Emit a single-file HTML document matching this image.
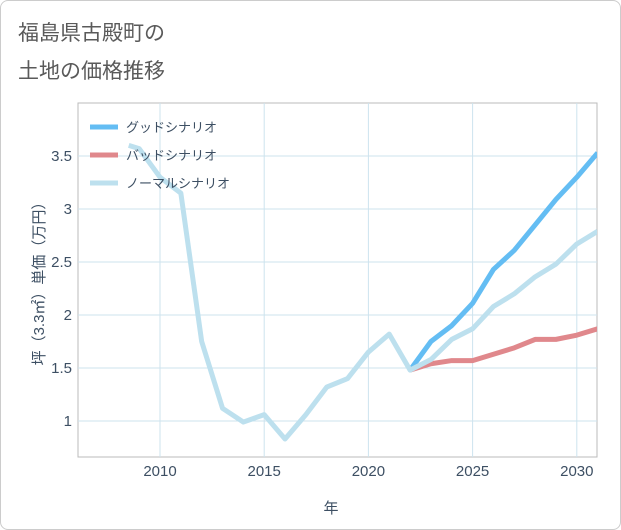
<!DOCTYPE html>
<html><head><meta charset="utf-8"><style>
body{margin:0;background:#fff;font-family:"Liberation Sans","Noto Sans CJK JP",sans-serif;}
#card{position:absolute;left:0;top:0;width:619px;height:528px;border:1px solid #ccc;border-radius:8px;background:#fff;}
</style></head><body>
<div id="card">
<svg id="chart" width="621" height="530" style="position:absolute;left:-1px;top:-1px">
<text x="18" y="40" font-size="21" fill="#5a5a5a" font-family="Liberation Sans,Noto Sans CJK JP,sans-serif">福島県古殿町の</text>
<text x="18" y="78" font-size="21" fill="#5a5a5a" font-family="Liberation Sans,Noto Sans CJK JP,sans-serif">土地の価格推移</text>
<g id="grid"></g><g id="series"></g><g id="legend"></g>
<text x="331" y="513" font-size="15" fill="#3d4f63" text-anchor="middle" font-family="Liberation Sans,Noto Sans CJK JP,sans-serif">年</text>
<text transform="translate(44,280) rotate(-90)" font-size="15" fill="#3d4f63" text-anchor="middle" font-family="Liberation Sans,Noto Sans CJK JP,sans-serif">坪（3.3㎡）単価（万円）</text>
</svg></div>
<script>
const xTicks=[2010,2015,2020,2025,2030];
const yTicks=[1,1.5,2,2.5,3,3.5];
const yTickLabels=["1","1.5","2","2.5","3","3.5"];
const normalYears=[2008.5,2009,2010,2011,2012,2013,2014,2015,2016,2017,2018,2019,2020,2021,2022,2023,2024,2025,2026,2027,2028,2029,2030,2031];
const normalVals=[3.6,3.57,3.3,3.15,1.75,1.12,0.99,1.06,0.83,1.06,1.32,1.4,1.65,1.82,1.48,1.58,1.77,1.87,2.08,2.2,2.36,2.48,2.67,2.79];
const futureYears=[2022,2023,2024,2025,2026,2027,2028,2029,2030,2031];
const goodVals=[1.48,1.75,1.9,2.11,2.43,2.61,2.85,3.09,3.3,3.53];
const badVals=[1.48,1.54,1.57,1.57,1.63,1.69,1.77,1.77,1.81,1.87];
const X0=78,X1=597,Y0=103,Y1=457;
const xS=v=>160+(v-2010)*20.84;
const yS=v=>421-(v-1)*106;
const NS="http://www.w3.org/2000/svg";
function mk(t,a,p){const e=document.createElementNS(NS,t);for(const k in a)e.setAttribute(k,a[k]);p.appendChild(e);return e;}
const grid=document.getElementById('grid');
const bg=mk('rect',{x:X0,y:Y0,width:X1-X0,height:Y1-Y0,fill:'#fff',stroke:'#bbb'},grid);


xTicks.forEach(t=>{
 const l=mk('line',{x1:xS(t),x2:xS(t),y1:Y0,y2:Y1,stroke:'#cde3ee'},grid);
 
 
 const tx=mk('text',{x:xS(t),y:476,'font-size':15,fill:'#3d4f63','text-anchor':'middle'},grid);
 tx.textContent=t;
 
 
});
yTicks.forEach((t,i)=>{
 const l=mk('line',{x1:X0,x2:X1,y1:yS(t),y2:yS(t),stroke:'#cde3ee'},grid);
 
 
 const tx=mk('text',{x:72,y:yS(t)+5,'font-size':15,fill:'#3d4f63','text-anchor':'end'},grid);
 tx.textContent=yTickLabels[i];
 
 
});
const ser=document.getElementById('series');
function line(xs,ys,c,name){
 const p=mk('polyline',{points:xs.map((x,i)=>xS(x)+','+yS(ys[i])).join(' '),fill:'none',stroke:c,'stroke-width':5,'stroke-linejoin':'round'},ser);
 
 
}
const cp=mk('clipPath',{id:'cp'},ser);mk('rect',{x:X0,y:Y0,width:X1-X0,height:Y1-Y0},cp);
ser.setAttribute('clip-path','url(#cp)');
line(futureYears,badVals,'#e0888c','bad-scenario-line');
line(futureYears,goodVals,'#64bdf3','good-scenario-line');
line(normalYears,normalVals,'#bde0ee','normal-scenario-line');
const leg=document.getElementById('legend');
[['グッドシナリオ','#64bdf3'],['バッドシナリオ','#e0888c'],['ノーマルシナリオ','#bde0ee']].forEach((d,i)=>{
 const y=127+i*28;
 const l=mk('line',{x1:90,x2:118,y1:y,y2:y,stroke:d[1],'stroke-width':5},leg);
 
 
 const t=mk('text',{x:126,y:y+5,'font-size':13,fill:'#3d4f63'},leg);
 t.textContent=d[0];
 
 
});
</script>
</body></html>
